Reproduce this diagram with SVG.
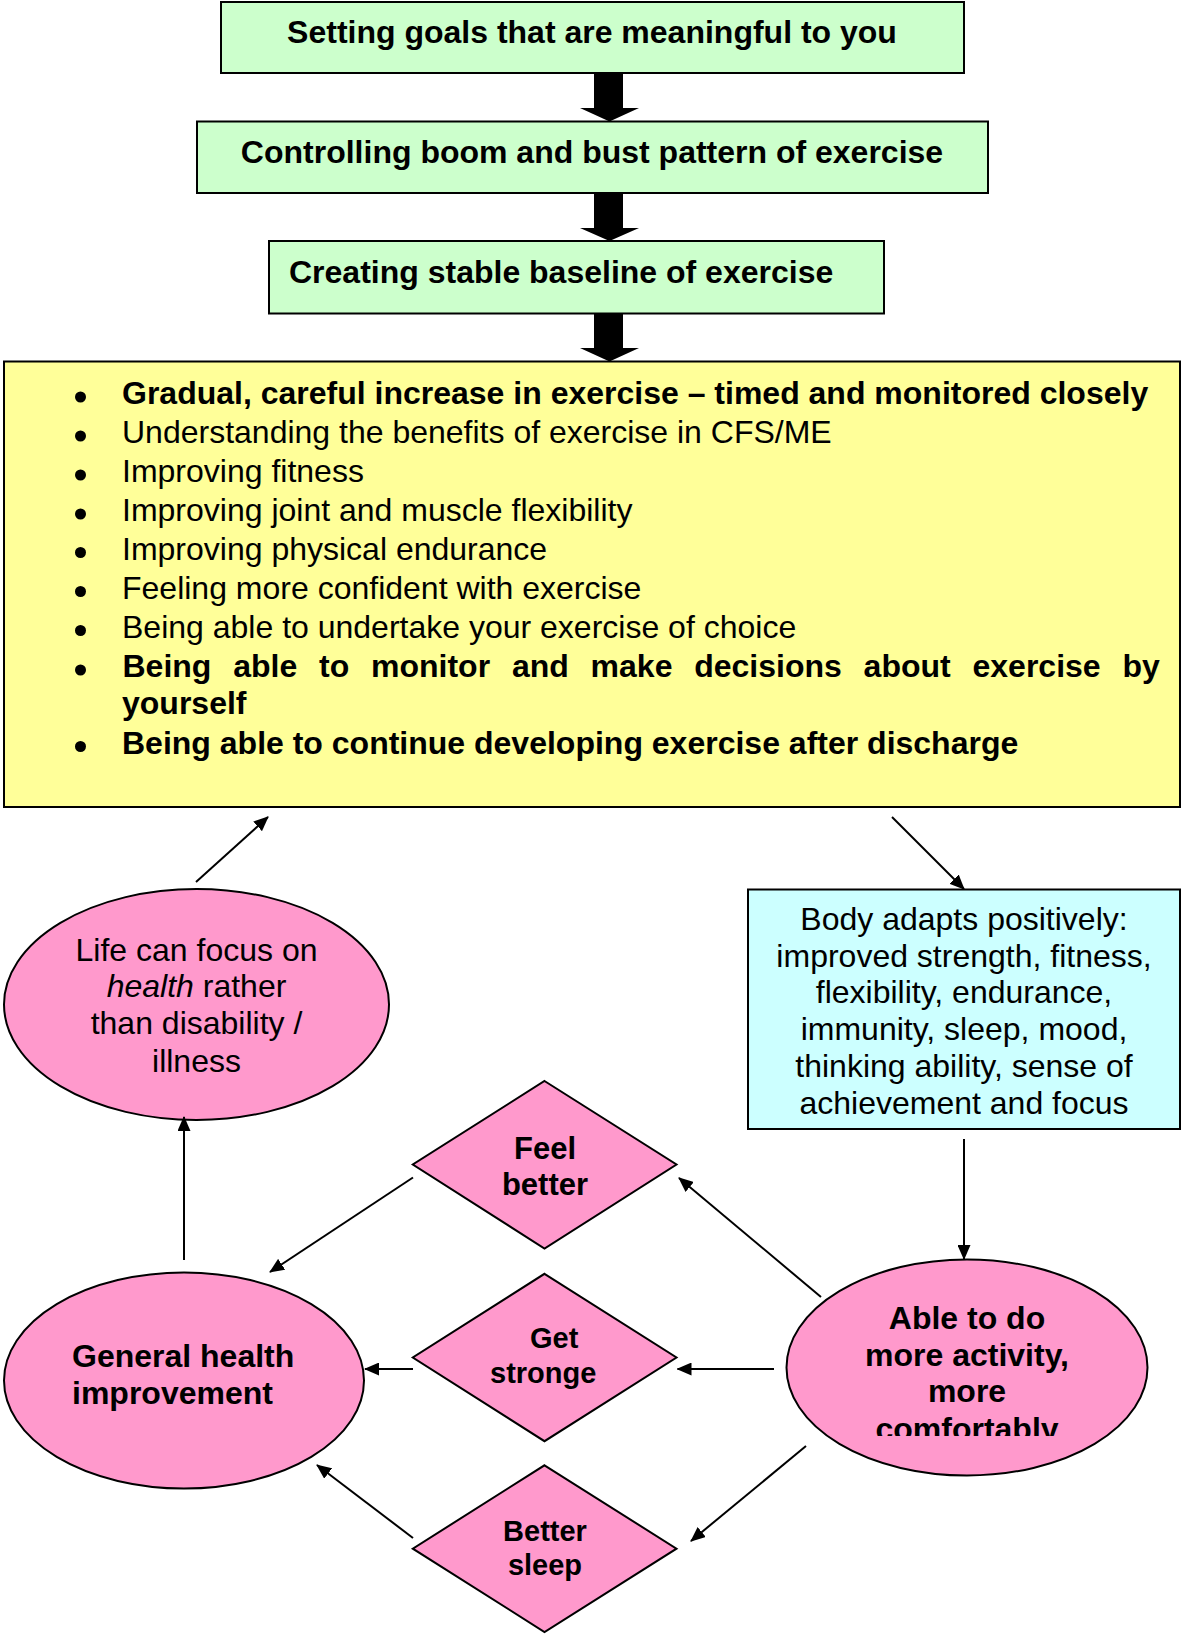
<svg xmlns="http://www.w3.org/2000/svg" width="1183" height="1635" viewBox="0 0 1183 1635">
<style>
.t{font-family:"Liberation Sans",Arial,sans-serif;fill:#000}
.b{font-weight:bold}
.n{stroke:#000;stroke-width:2}
.green{fill:#CCFFCC}
.yellow{fill:#FFFF99}
.cyan{fill:#CCFFFF}
.pink{fill:#FF99CC}
.c{stroke:#000;stroke-width:2;fill:none;marker-end:url(#ah)}
.mid{text-anchor:middle}
</style>
<defs>
<marker id="ah" viewBox="0 0 15 13" refX="14" refY="6.5" markerWidth="15" markerHeight="13" markerUnits="userSpaceOnUse" orient="auto">
<path d="M0,0 L15,6.5 L0,13 z" fill="#000"/>
</marker>
<clipPath id="ableclip"><rect x="780" y="1250" width="380" height="186"/></clipPath>
</defs>
<rect width="1183" height="1635" fill="#fff"/>

<g id="goals">
<rect class="n green" x="221" y="2" width="743" height="71"/>
<text class="t b mid" x="592" y="42.7" font-size="32">Setting goals that are meaningful to you</text>
</g>
<g id="boom">
<rect class="n green" x="197" y="121.5" width="791" height="71.5"/>
<text class="t b mid" x="592" y="162.7" font-size="32">Controlling boom and bust pattern of exercise</text>
</g>
<g id="baseline">
<rect class="n green" x="269" y="241" width="615" height="72.5"/>
<text class="t b" x="289" y="282.7" font-size="32">Creating stable baseline of exercise</text>
</g>

<g id="block-arrows" fill="#000">
<polygon points="594,73 623,73 623,108 639,108 609.5,121.5 580,108 594,108"/>
<polygon points="594,193 623,193 623,228 639,228 609.5,241 580,228 594,228"/>
<polygon points="594,313.5 623,313.5 623,348 639,348 609.5,361.5 580,348 594,348"/>
</g>

<g id="exercise-list">
<rect class="n yellow" x="4" y="361.5" width="1176" height="445.5"/>
<g fill="#000">
<circle cx="80.5" cy="397" r="5.5"/>
<circle cx="80.5" cy="436" r="5.5"/>
<circle cx="80.5" cy="475" r="5.5"/>
<circle cx="80.5" cy="514" r="5.5"/>
<circle cx="80.5" cy="552.5" r="5.5"/>
<circle cx="80.5" cy="591.5" r="5.5"/>
<circle cx="80.5" cy="630.5" r="5.5"/>
<circle cx="80.5" cy="670" r="5.5"/>
<circle cx="80.5" cy="746.5" r="5.5"/>
</g>
<g class="t" font-size="32">
<text class="b" x="122" y="403.5">Gradual, careful increase in exercise – timed and monitored closely</text>
<text x="122" y="443">Understanding the benefits of exercise in CFS/ME</text>
<text x="122" y="482">Improving fitness</text>
<text x="122" y="521">Improving joint and muscle flexibility</text>
<text x="122" y="559.5">Improving physical endurance</text>
<text x="122" y="598.5">Feeling more confident with exercise</text>
<text x="122" y="637.5">Being able to undertake your exercise of choice</text>
<text class="b" y="677"><tspan x="122.5">Being</tspan><tspan x="233.2">able</tspan><tspan x="319">to</tspan><tspan x="371">monitor</tspan><tspan x="511.9">and</tspan><tspan x="590.6">make</tspan><tspan x="694.2">decisions</tspan><tspan x="863.6">about</tspan><tspan x="972.5">exercise</tspan><tspan x="1122.4">by</tspan></text>
<text class="b" x="122" y="714">yourself</text>
<text class="b" x="122" y="753.5">Being able to continue developing exercise after discharge</text>
</g>
</g>

<g id="body-adapts">
<rect class="n cyan" x="748" y="889.5" width="432" height="239.5"/>
<g class="t mid" font-size="32">
<text x="964" y="930">Body adapts positively:</text>
<text x="964" y="966.7">improved strength, fitness,</text>
<text x="964" y="1003.3">flexibility, endurance,</text>
<text x="964" y="1040.3">immunity, sleep, mood,</text>
<text x="964" y="1077">thinking ability, sense of</text>
<text x="964" y="1113.7">achievement and focus</text>
</g>
</g>

<g id="life-focus">
<ellipse class="n pink" cx="196.5" cy="1004.5" rx="192.5" ry="115.5"/>
<g class="t mid" font-size="32">
<text x="196.5" y="960.7">Life can focus on</text>
<text x="196.5" y="997">
<tspan font-style="italic">health</tspan> rather</text>
<text x="196.5" y="1034.3">than disability /</text>
<text x="196.5" y="1071.5">illness</text>
</g>
</g>

<g id="general-health">
<ellipse class="n pink" cx="184" cy="1380.5" rx="180" ry="108"/>
<g class="t b" font-size="32">
<text x="72" y="1367">General health</text>
<text x="72" y="1403.5">improvement</text>
</g>
</g>

<g id="able-more">
<ellipse class="n pink" cx="967" cy="1367.5" rx="180.5" ry="108"/>
<g class="t b mid" font-size="32">
<text x="967" y="1328.5">Able to do</text>
<text x="967" y="1366">more activity,</text>
<text x="967" y="1402">more</text>
<text x="967" y="1439.5" clip-path="url(#ableclip)">comfortably</text>
</g>
</g>

<g id="feel-better">
<polygon class="n pink" points="544.5,1081 676.5,1164.5 544.5,1248.5 412.8,1164.5"/>
<g class="t b mid" font-size="31">
<text x="545" y="1159.3">Feel</text>
<text x="545" y="1195">better</text>
</g>
</g>

<g id="get-stronger">
<polygon class="n pink" points="544.5,1273.8 676.5,1357.5 544.5,1441.2 412.8,1357.5"/>
<g class="t b" font-size="29">
<text x="530" y="1348">Get</text>
<text x="490" y="1383">stronge</text>
</g>
</g>

<g id="better-sleep">
<polygon class="n pink" points="544.5,1465.3 676.5,1548.7 544.5,1632 412.8,1548.7"/>
<g class="t b mid" font-size="29">
<text x="545" y="1540.6">Better</text>
<text x="545" y="1574.5">sleep</text>
</g>
</g>

<g id="connectors">
<line class="c" x1="196" y1="882" x2="268" y2="817"/>
<line class="c" x1="892" y1="817" x2="964" y2="889"/>
<line class="c" x1="964" y1="1139" x2="964" y2="1259"/>
<line class="c" x1="821" y1="1297" x2="679" y2="1178"/>
<line class="c" x1="774" y1="1369" x2="677.5" y2="1369"/>
<line class="c" x1="806" y1="1446" x2="691" y2="1541"/>
<line class="c" x1="413" y1="1177.5" x2="270" y2="1272"/>
<line class="c" x1="413" y1="1369" x2="365" y2="1369"/>
<line class="c" x1="413" y1="1538" x2="317" y2="1465"/>
<line class="c" x1="184" y1="1260" x2="184" y2="1117"/>
</g>
</svg>
